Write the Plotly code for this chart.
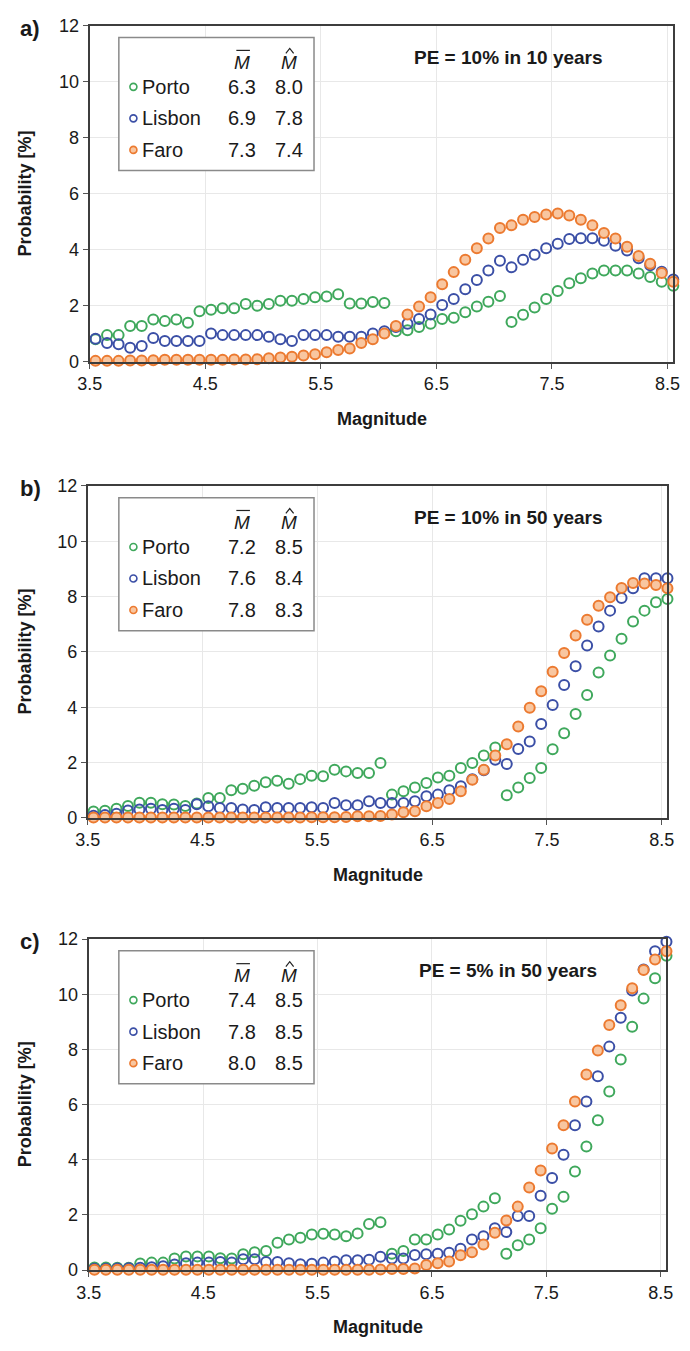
import plotly.graph_objects as go

W, H = 690, 1351
FONT = "Liberation Sans, Arial, sans-serif"

# Magnitude bin centres (shared by all three panels)
magnitude = [3.55, 3.65, 3.75, 3.85, 3.95, 4.05, 4.15, 4.25, 4.35, 4.45,
             4.55, 4.65, 4.75, 4.85, 4.95, 5.05, 5.15, 5.25, 5.35, 5.45,
             5.55, 5.65, 5.75, 5.85, 5.95, 6.05, 6.15, 6.25, 6.35, 6.45,
             6.55, 6.65, 6.75, 6.85, 6.95, 7.05, 7.15, 7.25, 7.35, 7.45,
             7.55, 7.65, 7.75, 7.85, 7.95, 8.05, 8.15, 8.25, 8.35, 8.45,
             8.55]

# a) PE = 10% in 10 years
porto_a = [0.80, 0.95, 0.95, 1.28, 1.28, 1.51, 1.45, 1.51, 1.39, 1.80,
           1.86, 1.91, 1.91, 2.06, 2.00, 2.06, 2.18, 2.18, 2.24, 2.30,
           2.33, 2.41, 2.08, 2.08, 2.13, 2.10, 1.09, 1.12, 1.24, 1.36,
           1.53, 1.57, 1.77, 1.97, 2.14, 2.35, 1.42, 1.68, 1.94, 2.24,
           2.53, 2.80, 2.98, 3.15, 3.26, 3.26, 3.26, 3.15, 3.03, 2.86,
           2.71]
lisbon_a = [0.82, 0.67, 0.62, 0.50, 0.56, 0.85, 0.74, 0.74, 0.74, 0.74,
            1.01, 0.95, 0.95, 0.95, 0.95, 0.89, 0.80, 0.74, 0.95, 0.95,
            0.95, 0.89, 0.89, 0.89, 1.01, 1.09, 1.24, 1.36, 1.53, 1.69,
            2.03, 2.24, 2.59, 2.92, 3.26, 3.61, 3.37, 3.64, 3.82, 4.05,
            4.21, 4.38, 4.41, 4.41, 4.32, 4.14, 3.97, 3.70, 3.45, 3.21,
            2.94]
faro_a = [0.03, 0.03, 0.03, 0.04, 0.04, 0.05, 0.07, 0.07, 0.07, 0.07,
          0.07, 0.07, 0.08, 0.08, 0.09, 0.12, 0.15, 0.18, 0.22, 0.27,
          0.34, 0.42, 0.47, 0.67, 0.80, 1.01, 1.28, 1.69, 1.97, 2.30,
          2.77, 3.20, 3.64, 4.05, 4.40, 4.78, 4.87, 5.07, 5.17, 5.26,
          5.29, 5.22, 5.07, 4.87, 4.60, 4.40, 4.11, 3.78, 3.50, 3.17,
          2.86]

# b) PE = 10% in 50 years
porto_b = [0.23, 0.26, 0.33, 0.43, 0.55, 0.55, 0.49, 0.48, 0.43, 0.52,
           0.72, 0.72, 1.00, 1.05, 1.16, 1.29, 1.34, 1.23, 1.40, 1.52,
           1.50, 1.74, 1.68, 1.62, 1.62, 1.98, 0.84, 0.96, 1.10, 1.26,
           1.46, 1.52, 1.80, 1.98, 2.25, 2.54, 0.82, 1.10, 1.44, 1.80,
           2.48, 3.06, 3.75, 4.44, 5.25, 5.87, 6.47, 7.10, 7.49, 7.79,
           7.91]
lisbon_b = [0.08, 0.10, 0.15, 0.27, 0.30, 0.33, 0.28, 0.33, 0.28, 0.49,
            0.42, 0.36, 0.36, 0.30, 0.28, 0.38, 0.36, 0.36, 0.36, 0.38,
            0.36, 0.54, 0.46, 0.46, 0.60, 0.54, 0.54, 0.54, 0.60, 0.78,
            0.84, 1.00, 1.14, 1.40, 1.72, 2.10, 1.95, 2.49, 2.76, 3.39,
            4.08, 4.80, 5.48, 6.23, 6.92, 7.49, 7.95, 8.30, 8.66, 8.66,
            8.66]
faro_b = [0.01, 0.01, 0.01, 0.01, 0.01, 0.01, 0.01, 0.01, 0.01, 0.01,
          0.01, 0.01, 0.01, 0.01, 0.01, 0.01, 0.01, 0.01, 0.01, 0.02,
          0.02, 0.02, 0.03, 0.06, 0.06, 0.07, 0.12, 0.20, 0.24, 0.42,
          0.54, 0.68, 0.96, 1.38, 1.74, 2.25, 2.66, 3.30, 3.98, 4.58,
          5.28, 5.96, 6.59, 7.16, 7.67, 7.97, 8.31, 8.49, 8.47, 8.42,
          8.30]

# c) PE = 5% in 50 years
porto_c = [0.09, 0.09, 0.08, 0.08, 0.24, 0.27, 0.27, 0.42, 0.49, 0.49,
           0.49, 0.43, 0.42, 0.57, 0.65, 0.69, 0.99, 1.11, 1.17, 1.29,
           1.32, 1.29, 1.23, 1.33, 1.67, 1.73, 0.59, 0.69, 1.11, 1.11,
           1.29, 1.47, 1.79, 2.02, 2.30, 2.60, 0.59, 0.90, 1.11, 1.52,
           2.22, 2.66, 3.57, 4.48, 5.43, 6.47, 7.63, 8.82, 9.84, 10.58,
           11.39]
lisbon_c = [0.05, 0.05, 0.06, 0.07, 0.08, 0.10, 0.14, 0.20, 0.25, 0.27,
            0.27, 0.29, 0.27, 0.39, 0.39, 0.29, 0.29, 0.25, 0.21, 0.23,
            0.27, 0.31, 0.36, 0.36, 0.37, 0.48, 0.42, 0.42, 0.55, 0.57,
            0.59, 0.63, 0.77, 1.11, 1.23, 1.52, 1.38, 1.96, 1.96, 2.69,
            3.34, 4.18, 5.25, 6.11, 7.03, 8.10, 9.15, 10.13, 10.90, 11.56,
            11.90]
faro_c = [0.01, 0.01, 0.01, 0.01, 0.01, 0.01, 0.01, 0.01, 0.01, 0.01,
          0.01, 0.01, 0.01, 0.01, 0.01, 0.01, 0.01, 0.01, 0.01, 0.01,
          0.01, 0.01, 0.01, 0.01, 0.01, 0.02, 0.04, 0.04, 0.06, 0.18,
          0.25, 0.31, 0.54, 0.65, 0.93, 1.35, 1.80, 2.30, 2.99, 3.61,
          4.41, 5.25, 6.11, 7.09, 7.96, 8.88, 9.60, 10.22, 10.88, 11.26,
          11.56]

cities = ["Porto", "Lisbon", "Faro"]
mean_mag = {"a": ["6.3", "6.9", "7.3"], "b": ["7.2", "7.6", "7.8"], "c": ["7.4", "7.8", "8.0"]}
mode_mag = {"a": ["8.0", "7.8", "7.4"], "b": ["8.5", "8.4", "8.3"], "c": ["8.5", "8.5", "8.5"]}
pe_labels = {"a": "PE = 10% in 10 years", "b": "PE = 10% in 50 years", "c": "PE = 5% in 50 years"}
series = {"a": [porto_a, lisbon_a, faro_a],
          "b": [porto_b, lisbon_b, faro_b],
          "c": [porto_c, lisbon_c, faro_c]}

x_ticks = [3.5, 4.5, 5.5, 6.5, 7.5, 8.5]
y_ticks = [0, 2, 4, 6, 8, 10, 12]

line_cols = ["#3fa85c", "#3b4fa6", "#ec7a30"]
fill_cols = ["rgba(255,255,255,0)", "rgba(255,255,255,0)", "#f8c6a0"]

# plot-area boxes in pixels: left, right, top, bottom
boxes = {"a": (79, 680, 16, 357), "b": (77, 674, 483, 820), "c": (78, 673, 943, 1279)}


def fx(px):
    return px / W


def fy(py):
    return 1 - py / H


fig = go.Figure()
annotations = []
shapes = []


def label(x, y, text, size, xanchor="center", yanchor="middle", angle=0, color="#1a1a1a"):
    annotations.append(dict(
        x=fx(x), y=fy(y), xref="paper", yref="paper", text=text, showarrow=False,
        xanchor=xanchor, yanchor=yanchor, textangle=angle,
        font=dict(family=FONT, size=size, color=color)))


for k, key in enumerate(["a", "b", "c"]):
    l, r, t, b = boxes[key]
    sfx = "" if k == 0 else str(k + 1)
    ax_common = dict(showline=True, linecolor="#3d3d3d", linewidth=2, mirror=True,
                     ticks="outside", ticklen=5, tickcolor="#555", tickwidth=1,
                     showgrid=True, gridcolor="#e8e8e8", gridwidth=1, zeroline=False,
                     tickfont=dict(family=FONT, size=18, color="#1a1a1a"))
    fig.layout["xaxis" + sfx] = dict(ax_common, domain=[fx(l), fx(r)], range=[3.5, 8.55],
                                     tickvals=x_ticks, ticktext=[f"{v:.1f}" for v in x_ticks],
                                     anchor="y" + sfx)
    fig.layout["yaxis" + sfx] = dict(ax_common, domain=[fy(b), fy(t)], range=[0, 12],
                                     tickvals=y_ticks, anchor="x" + sfx)

    for j, city in enumerate(cities):
        fig.add_trace(go.Scatter(
            x=magnitude, y=series[key][j], mode="markers", name=city,
            xaxis="x" + sfx, yaxis="y" + sfx, cliponaxis=False, showlegend=False,
            marker=dict(size=10, color=fill_cols[j], line=dict(color=line_cols[j], width=2))))

    # panel letter, axis titles, return-period caption
    label(5, t + 3, f"<b>{key})</b>", 22, xanchor="left")
    label(12, (t + b) / 2, "<b>Probability [%]</b>", 18, angle=-90)
    label((l + r) / 2, b + 58, "<b>Magnitude</b>", 18)
    label(510, t + 32, f"<b>{pe_labels[key]}</b>", 19)

    # inset key box
    shapes.append(dict(type="rect", xref="paper", yref="paper",
                       x0=fx(109), x1=fx(310), y0=fy(t + 147), y1=fy(t + 12),
                       line=dict(color="#8a8a8a", width=1.5), fillcolor="white"))
    mx, hx = 236, 284
    # mean magnitude symbol: italic M with an overbar
    label(mx, t + 37, "<i>M</i>", 19)
    shapes.append(dict(type="line", xref="paper", yref="paper",
                       x0=fx(mx - 6), x1=fx(mx + 8), y0=fy(t + 25), y1=fy(t + 25),
                       line=dict(color="#222", width=1.2)))
    # modal magnitude symbol: italic M with a caret drawn as a path
    label(hx, t + 37, "<i>M</i>", 19)
    caret = "M {:.5f},{:.5f} L {:.5f},{:.5f} L {:.5f},{:.5f}".format(
        fx(hx - 3), fy(t + 28), fx(hx + 1), fy(t + 23), fx(hx + 5), fy(t + 28))
    shapes.append(dict(type="path", xref="paper", yref="paper", path=caret,
                       line=dict(color="#222", width=1.2)))
    for j, city in enumerate(cities):
        yy = t + 62 + 32 * j
        shapes.append(dict(type="circle", xref="paper", yref="paper",
                           xsizemode="pixel", ysizemode="pixel",
                           xanchor=fx(124), yanchor=fy(yy),
                           x0=-3.5, x1=3.5, y0=-3.5, y1=3.5,
                           line=dict(color=line_cols[j], width=1.6),
                           fillcolor=fill_cols[j]))
        label(131, yy, city, 20, xanchor="left")
        label(mx, yy, mean_mag[key][j], 20)
        label(hx, yy, mode_mag[key][j], 20)

fig.update_layout(
    width=W, height=H, margin=dict(l=0, r=0, t=0, b=0),
    paper_bgcolor="white", plot_bgcolor="white",
    annotations=annotations, shapes=shapes, showlegend=False,
)

fig.write_html("out.html")
